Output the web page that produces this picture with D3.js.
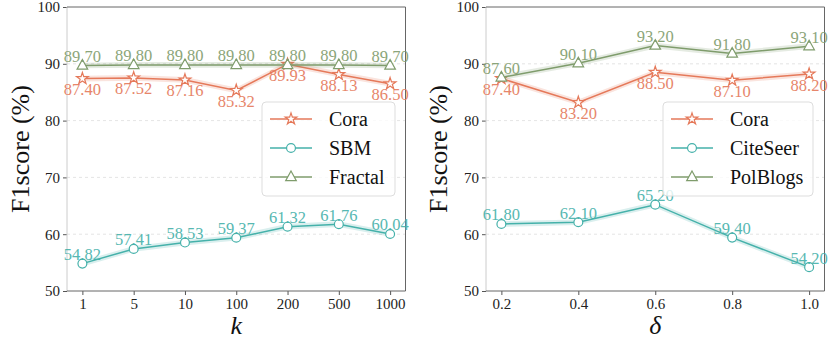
<!DOCTYPE html>
<html>
<head>
  <meta charset="UTF-8">
  <script src="https://d3js.org/d3.v7.min.js"></script>
</head>
<body style="margin:0">
  <svg width="838" height="340" font-family="Liberation Serif" style="display:block"></svg>

  <script>
    // data
    const kLabels = ["1", "5", "10", "100", "200", "500", "1000"];
    const kCora = [87.40, 87.52, 87.16, 85.32, 89.93, 88.13, 86.50];
    const kSBM = [54.82, 57.41, 58.53, 59.37, 61.32, 61.76, 60.04];
    const kFractal = [89.70, 89.80, 89.80, 89.80, 89.80, 89.80, 89.70];

    const deltas = [0.2, 0.4, 0.6, 0.8, 1.0];
    const dCora = [87.40, 83.20, 88.50, 87.10, 88.20];
    const dCiteSeer = [61.80, 62.10, 65.20, 59.40, 54.20];
    const dPolBlogs = [87.60, 90.10, 93.20, 91.80, 93.10];

    const yTicks = [50, 60, 70, 80, 90, 100];

    const FONT = "Liberation Serif";
    const orange = "#e5795a", teal = "#45b1aa", green = "#7f9c6c";
    const svg = d3.select("svg");

    const starPath = d3.symbol().type(d3.symbolStar).size(42)();
    const circlePath = d3.symbol().type(d3.symbolCircle).size(62)();
    const triPath = "M0,-6L5.3,3.6L-5.3,3.6Z";

    function panel(opts) {
      const g = svg.append("g");
      const y = d3.scaleLinear().domain([50, 100]).range([291, 7]);
      const x = opts.x;
      const [x0, x1] = x.range();

      // grid
      g.selectAll(null).data([60, 70, 80, 90]).enter().append("line")
        .attr("x1", x0).attr("x2", x1)
        .attr("y1", d => y(d)).attr("y2", d => y(d))
        .attr("stroke", "#ddd").attr("stroke-dasharray", "3,3").attr("stroke-width", 0.8);

      // axes
      g.append("g").attr("transform", `translate(${x0},0)`)
        .call(d3.axisLeft(y).tickValues(yTicks).tickSize(4).tickPadding(3))
        .call(a => a.select(".domain").remove());
      g.append("g").attr("transform", "translate(0,291)")
        .call(d3.axisBottom(x).tickValues(opts.xs).tickFormat((d, i) => opts.xLabels[i]).tickSize(4).tickPadding(3))
        .call(a => a.select(".domain").remove());
      g.selectAll(".tick line").attr("stroke", "#555");
      g.selectAll(".tick text").attr("fill", "#222");
      g.selectAll(".tick").each(function () { this.parentNode.setAttribute("font-family", FONT); this.parentNode.setAttribute("font-size", 15); });

      // spines
      g.append("line").attr("x1", x0).attr("x2", x0).attr("y1", 7).attr("y2", 291).attr("stroke", "#ccc");
      g.append("line").attr("x1", x1).attr("x2", x1).attr("y1", 7).attr("y2", 291).attr("stroke", "#666");
      g.append("line").attr("x1", x0).attr("x2", x1).attr("y1", 7).attr("y2", 7).attr("stroke", "#666");
      g.append("line").attr("x1", x0).attr("x2", x1).attr("y1", 291).attr("y2", 291).attr("stroke", "#666");

      opts.series.forEach(s => {
        const pts = s.values.map((v, i) => ({ x: x(opts.xs[i]), v: v }));
        const band = d3.area().x(d => d.x).y0(d => y(d.v - 0.5)).y1(d => y(d.v + 0.5));
        g.append("path").datum(pts).attr("d", band).attr("fill", s.color).attr("opacity", 0.2);
        const line = d3.line().x(d => d.x).y(d => y(d.v));
        g.append("path").datum(pts).attr("d", line).attr("fill", "none")
          .attr("stroke", s.color).attr("stroke-width", 1.5);
        g.selectAll(null).data(pts).enter().append("path")
          .attr("d", s.marker)
          .attr("transform", d => `translate(${d.x},${y(d.v)})`)
          .attr("fill", "#fff").attr("stroke", s.color).attr("stroke-width", 1.2);
        g.selectAll(null).data(pts).enter().append("text")
          .attr("x", d => d.x)
          .attr("y", d => s.below ? y(d.v) + 16.5 : y(d.v) - 3.5)
          .attr("text-anchor", "middle")
          .attr("font-family", FONT).attr("font-size", 16.5)
          .attr("fill", s.color).attr("opacity", 0.9)
          .text(d => d.v.toFixed(2));
      });

      // legend
      const lg = g.append("g");
      lg.append("rect")
        .attr("x", opts.legend.x).attr("y", 102)
        .attr("width", opts.legend.w).attr("height", 94)
        .attr("rx", 4)
        .attr("fill", "#fff").attr("fill-opacity", 0.8)
        .attr("stroke", "#ddd");
      opts.series.forEach((s, i) => {
        const cy = 119 + i * 29;
        const lx = opts.legend.x + 8;
        lg.append("line").attr("x1", lx).attr("x2", lx + 42).attr("y1", cy).attr("y2", cy)
          .attr("stroke", s.color).attr("stroke-width", 1.5);
        lg.append("path").attr("d", s.marker).attr("transform", `translate(${lx + 21},${cy})`)
          .attr("fill", "#fff").attr("stroke", s.color).attr("stroke-width", 1.2);
        lg.append("text").attr("x", opts.legend.x + opts.legend.tx).attr("y", cy + 7)
          .attr("font-family", FONT).attr("font-size", 20)
          .attr("fill", "#111").text(s.name);
      });

      // axis titles
      g.append("text")
        .attr("transform", `translate(${opts.yTitleX},149) rotate(-90)`)
        .attr("text-anchor", "middle")
        .attr("font-family", FONT).attr("font-size", 26)
        .attr("fill", "#111")
        .text("F1score (%)");
      g.append("text")
        .attr("x", (x0 + x1) / 2).attr("y", 334)
        .attr("text-anchor", "middle")
        .attr("font-family", FONT).attr("font-size", 26).attr("font-style", "italic")
        .attr("fill", "#111")
        .text(opts.xTitle);
    }

    const kIdx = kLabels.map((d, i) => i);
    panel({
      x: d3.scaleLinear().domain([-0.3, 6.3]).range([67, 405.5]),
      xs: kIdx,
      xLabels: kLabels,
      xTitle: "k",
      yTitleX: 29,
      legend: { x: 262, w: 133, tx: 67 },
      series: [
        { name: "Cora", values: kCora, color: orange, marker: starPath, below: true },
        { name: "SBM", values: kSBM, color: teal, marker: circlePath, below: false },
        { name: "Fractal", values: kFractal, color: green, marker: triPath, below: false }
      ]
    });

    panel({
      x: d3.scaleLinear().domain([0.16, 1.04]).range([486, 824.5]),
      xs: deltas,
      xLabels: deltas.map(d => d.toFixed(1)),
      xTitle: "δ",
      yTitleX: 447,
      legend: { x: 663, w: 150, tx: 67 },
      series: [
        { name: "Cora", values: dCora, color: orange, marker: starPath, below: true },
        { name: "CiteSeer", values: dCiteSeer, color: teal, marker: circlePath, below: false },
        { name: "PolBlogs", values: dPolBlogs, color: green, marker: triPath, below: false }
      ]
    });
  </script>
</body>
</html>
